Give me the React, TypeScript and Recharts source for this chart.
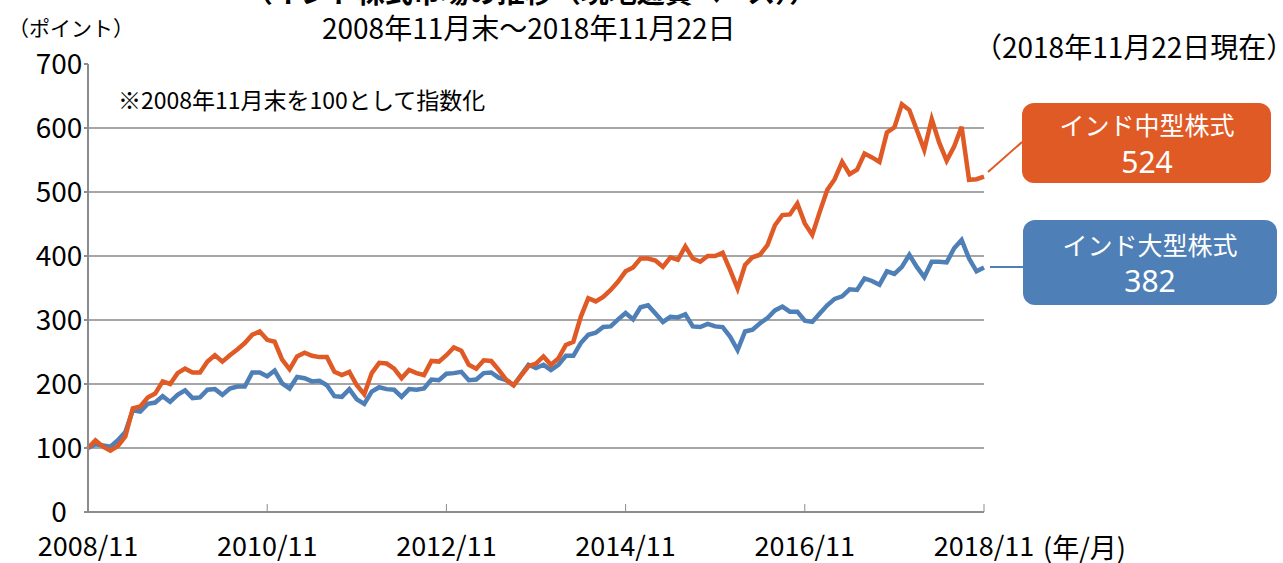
import { CartesianGrid, Line, LineChart, XAxis, YAxis } from "recharts";

const font = '"Noto Sans CJK JP", "Noto Sans", sans-serif';
const digitFont = '"Noto Sans", "Noto Sans CJK JP", sans-serif';
const orange = "#E05A26";
const blue = "#4F7FB7";
const axisGray = "#8C8C8C";

// monthly index values, 2008/11 = 100 (last point is 2018/11/22)
const midCap = [
  100, 112, 102, 96, 103, 118, 162, 165, 179, 185, 204, 200, 217, 224, 218, 218, 235, 245, 235, 245, 254,
  264, 277, 282, 269, 266, 238, 223, 243, 249, 244, 242, 242, 219, 214, 219, 198, 184, 217, 233, 232,
  224, 209, 222, 217, 214, 236, 235, 245, 257, 252, 230, 224, 237, 236, 222, 207, 198, 213, 228, 232,
  243, 230, 240, 261, 266, 305, 334, 329, 336, 347, 360, 376, 382, 396, 396, 393, 383, 398, 394, 415,
  396, 391, 400, 400, 405, 378, 349, 386, 398, 402, 417, 448, 464, 465, 482, 451, 433, 469, 503, 520,
  547, 528, 535, 560, 554, 547, 593, 601, 637, 628, 597, 566, 614, 577, 549, 571, 602, 519, 520, 524,
];

const largeCap = [
  100, 106, 104, 102, 112, 125, 159, 157, 169, 171, 181, 172, 183, 190, 178, 179, 191, 192, 183, 193, 196,
  196, 218, 218, 212, 221, 201, 193, 211, 209, 204, 205, 198, 181, 180, 192, 176, 169, 188, 195, 192,
  191, 180, 192, 191, 193, 207, 206, 216, 217, 219, 206, 207, 217, 218, 210, 206, 198, 214, 230, 225,
  230, 222, 230, 244, 244, 264, 277, 280, 289, 290, 301, 311, 301, 320, 323, 310, 297, 305, 304, 309,
  290, 289, 294, 290, 289, 274, 253, 282, 285, 295, 303, 315, 321, 313, 313, 299, 297, 310, 323, 333,
  337, 348, 347, 365, 361, 355, 376, 372, 383, 402, 383, 367, 391, 391, 390, 412, 425, 396, 376, 382,
];

const xTicks = [0, 24, 48, 72, 96, 120];
const xTickLabels = ["2008/11", "2010/11", "2012/11", "2014/11", "2016/11", "2018/11"];
const yTicks = [0, 100, 200, 300, 400, 500, 600, 700];

const rows = midCap.map((v, i) => ({ m: i, mid: v, large: largeCap[i] }));

const App = () => {
  return (
    <div style={{ position: "absolute", left: 0, top: 0, width: 1283, height: 563, fontFamily: font }}>
      <LineChart width={1283} height={563} data={rows} margin={{ top: 64, right: 299, bottom: 0, left: 0 }}>
        <CartesianGrid
          vertical={false}
          horizontalValues={[100, 200, 300, 400, 500, 600]}
          stroke="#A6A6A6"
          strokeWidth={2}
        />
        <XAxis
          dataKey="m"
          type="number"
          domain={[0, 120]}
          ticks={xTicks}
          tickFormatter={(v) => xTickLabels[xTicks.indexOf(v)]}
          height={51}
          tickSize={-8}
          tickMargin={33}
          axisLine={{ stroke: axisGray, strokeWidth: 2 }}
          tickLine={{ stroke: axisGray, strokeWidth: 1 }}
          tick={{ fill: "#000", fontSize: 27, fontFamily: font }}
          interval={0}
        />
        <YAxis
          domain={[0, 700]}
          ticks={yTicks}
          width={88}
          tickSize={4}
          tickMargin={25}
          axisLine={{ stroke: axisGray, strokeWidth: 2 }}
          tickLine={{ stroke: axisGray, strokeWidth: 2 }}
          tick={{ fill: "#000", fontSize: 28, fontFamily: font, textAnchor: "middle" }}
          interval={0}
        />
        <Line dataKey="large" stroke={blue} strokeWidth={4.5} dot={false} isAnimationActive={false} />
        <Line dataKey="mid" stroke={orange} strokeWidth={4.5} dot={false} isAnimationActive={false} />
      </LineChart>
      <svg
        width={1283}
        height={563}
        style={{ position: "absolute", left: 0, top: 0, pointerEvents: "none" }}
        fontFamily={font}
      >
        <text x={531} y={3} textAnchor="middle" fontSize={28} fontWeight="bold" fill="#000">
          （インド株式市場の推移（現地通貨ベース））
        </text>
        <text x={8} y={36} fontSize={21} fill="#000">（ポイント）</text>
        <text x={322} y={39} fontSize={28} fill="#000">2008年11月末～2018年11月22日</text>
        <text x={974} y={58} fontSize={28} fill="#000">（2018年11月22日現在）</text>
        <text x={118} y={109} fontSize={23} fill="#000">※2008年11月末を100として指数化</text>
        <text x={1043} y={558} fontSize={27} fill="#000">(年/月)</text>

        <line x1={988} y1={172} x2={1022} y2={142} stroke={orange} strokeWidth={2} />
        <rect x={1022} y={103} width={249} height={80} rx={12} fill={orange} />
        <text x={1147} y={135} textAnchor="middle" fontSize={25} fill="#fff">インド中型株式</text>
        <text x={1147} y={173} textAnchor="middle" fontSize={30} fontFamily={digitFont} fill="#fff">524</text>

        <line x1={990} y1={267} x2={1023} y2={267} stroke={blue} strokeWidth={2} />
        <rect x={1023} y={220} width={254} height={85} rx={12} fill={blue} />
        <text x={1150} y={255} textAnchor="middle" fontSize={25} fill="#fff">インド大型株式</text>
        <text x={1150} y={292} textAnchor="middle" fontSize={30} fontFamily={digitFont} fill="#fff">382</text>
      </svg>
    </div>
  );
};

export default App;
